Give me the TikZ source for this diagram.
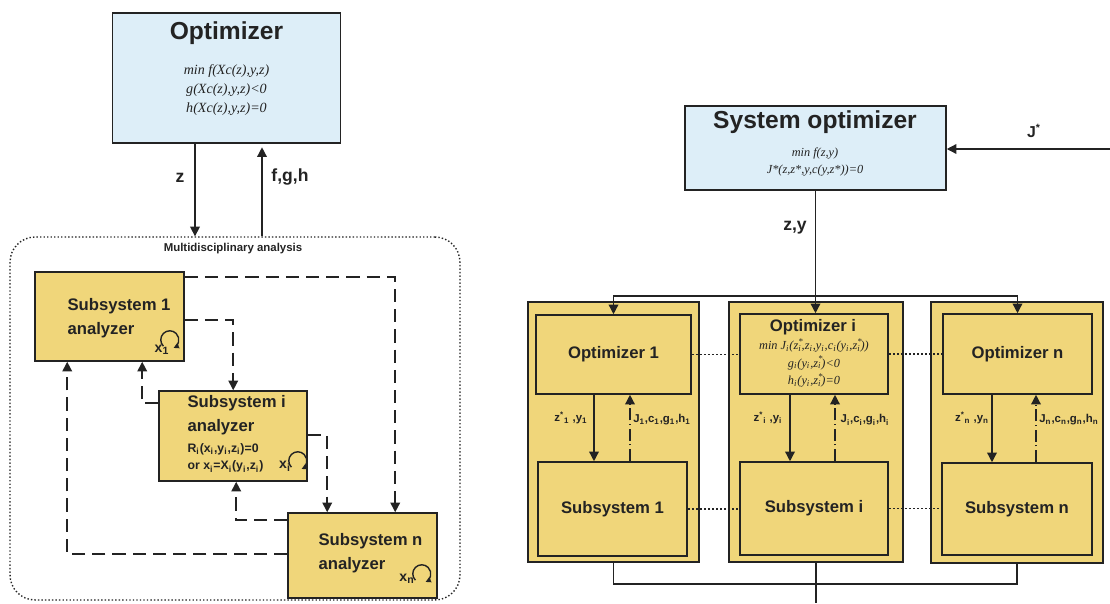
\documentclass[tikz,border=0pt]{standalone}
\usepackage{fontspec}
\setmainfont{Liberation Sans}
\newfontfamily\formfont{Liberation Serif}
\usetikzlibrary{arrows.meta,calc,positioning}
\definecolor{optblue}{RGB}{221,238,248}
\definecolor{subgold}{RGB}{240,214,122}
\definecolor{edge}{RGB}{35,35,35}
\newcommand{\sbs}[1]{\textsubscript{#1}}
\newcommand{\zst}[1]{z\rlap{\textsuperscript{*}}\textsubscript{#1}}

\begin{document}
\begin{tikzpicture}[x=0.02cm, y=-0.02cm, thick, draw=edge,
  >={Triangle[length=5.5pt,width=5.5pt]},
  optbox/.style={rectangle, draw=edge, fill=optblue, line width=0.9pt},
  anabox/.style={rectangle, draw=edge, fill=subgold, line width=0.9pt},
  title/.style={font=\fontsize{14}{16}\selectfont\bfseries, text=edge},
  formula/.style={font=\formfont\itshape\fontsize{8}{11}\selectfont, align=center, text=edge},
  formsmall/.style={font=\formfont\itshape\fontsize{7}{10}\selectfont, align=center, text=edge},
  boxtext/.style={font=\fontsize{9.5}{13.5}\selectfont\bfseries, text=edge},
  lbl/.style={font=\fontsize{10}{12}\selectfont\bfseries, text=edge},
  small/.style={font=\fontsize{6.5}{10}\selectfont\bfseries, text=edge},
  feed/.style={dash pattern=on 7.5pt off 4pt, line width=0.85pt},
  link/.style={dash pattern=on 1pt off 1.3pt, line width=0.8pt},
  back/.style={dash pattern=on 7pt off 2pt on 0.6pt off 2pt},
  loop/.style={->, line width=0.8pt, >={Triangle[length=3pt,width=3pt]}}]
  \useasboundingbox (0,0) rectangle (1110,603);

  % left: optimizer and the analysis loop
  \node[optbox, minimum width=4.56cm, minimum height=2.6cm] (opt) at (226.5,78) {};
  \node[title] (OptTitle) at (226.5,33) {Optimizer};
  \node[formula] (OptForm) at (226.5,90) {min f(Xc(z),y,z)\\g(Xc(z),y,z)<0\\h(Xc(z),y,z)=0};

  \node[draw=edge, dash pattern=on 0.8pt off 1.2pt, line width=0.8pt, rounded corners=0.5cm,
        minimum width=9cm, minimum height=7.26cm] (mda) at (235,418.5) {};
  \node[small] (MdaLabel) at (233,249) {Multidisciplinary analysis};

  \coordinate (zx) at (195,0);
  \coordinate (fx) at (262,0);
  \draw[->] (opt.south -| zx) -- (mda.north -| zx);
  \draw[->, shorten >=2pt] (mda.north -| fx) -- (opt.south -| fx);
  \node[lbl] (zL) at (180,178) {z};
  \node[lbl] (fghL) at (290,177) {f,g,h};

  \node[anabox, minimum width=2.98cm, minimum height=1.78cm] (s1) at (109.5,316.5) {};
  \node[boxtext, align=left, anchor=west] (s1T) at (61,318) {Subsystem 1\\analyzer};
  \node[anabox, minimum width=2.96cm, minimum height=1.8cm] (si) at (233,436) {};
  \node[boxtext, align=left, anchor=west] (siT) at (181,415) {Subsystem i\\analyzer};
  \node[small, font=\fontsize{7}{10}\selectfont\bfseries, align=left, anchor=west] (siR) at (181,458)
    {R\sbs{i}(x\sbs{i},y\sbs{i},z\sbs{i})=0\\or x\sbs{i}=X\sbs{i}(y\sbs{i},z\sbs{i})};
  \node[anabox, minimum width=2.98cm, minimum height=1.7cm] (sn) at (362.5,555.5) {};
  \node[boxtext, align=left, anchor=west] (snT) at (312,553) {Subsystem n\\analyzer};

  \draw[loop] ($(s1.south east)+(-15,-22)$) ++(225:0.18cm) arc (225:-65:0.18cm);
  \node[small, font=\fontsize{8}{10}\selectfont\bfseries] (x1) at (162,350) {x\sbs{1}};
  \draw[loop] ($(si.south east)+(-10,-21)$) ++(225:0.18cm) arc (225:-65:0.18cm);
  \node[small, font=\fontsize{8}{10}\selectfont\bfseries] (xi) at (285,466) {x\sbs{i}};
  \draw[loop] ($(sn.south east)+(-16,-25)$) ++(225:0.18cm) arc (225:-65:0.18cm);
  \node[small, font=\fontsize{8}{10}\selectfont\bfseries] (xn) at (407,579) {x\sbs{n}};

  \draw[feed, ->] ($(s1.north east)+(0,6)$) -| ($(sn.north west)+(108,0)$);
  \draw[feed, ->] ($(s1.north east)+(0,49)$) -| ($(si.north west)+(75,0)$);
  \draw[feed, ->] ($(si.north east)+(0,45)$) -| ($(sn.north west)+(40,0)$);
  \draw[feed, ->] ($(si.north west)+(0,13)$) -| ($(s1.south west)+(108,0)$);
  \draw[feed, ->] ($(sn.north west)+(0,8)$) -| ($(si.south west)+(78,0)$);
  \draw[feed, ->] ($(sn.north west)+(0,42)$) -| ($(s1.south west)+(33,0)$);

  % right: system optimizer and the subsystem columns
  \node[optbox, minimum width=5.22cm, minimum height=1.68cm] (sys) at (815.5,148) {};
  \node[title] (SysTitle) at (815,122) {System optimizer};
  \node[formsmall] (SysForm) at (815,162) {min f(z,y)\\J*(z,z*,y,c(y,z*))=0};
  \coordinate (jin) at (1110,149);
  \draw[->] (jin) -- (sys.east |- jin);
  \node[lbl, font=\fontsize{9}{11}\selectfont\bfseries] (JL) at (1034,131) {J\textsuperscript{*}};
  \node[lbl] (zyL) at (795,228) {z,y};

  \node[anabox, minimum width=3.42cm, minimum height=5.2cm] (col1) at (613.5,432) {};
  \node[anabox, minimum width=3.48cm, minimum height=5.2cm] (coli) at (816,432) {};
  \node[anabox, minimum width=3.44cm, minimum height=5.22cm] (coln) at (1017,432.5) {};

  \node[anabox, boxtext, minimum width=3.1cm, minimum height=1.58cm] (opt1) at (613.5,354.5) {Optimizer 1};
  \node[anabox, minimum width=2.96cm, minimum height=1.6cm] (opti) at (814,354) {};
  \node[boxtext] (OptiTitle) at (813,327) {Optimizer i};
  \node[formsmall] (OptiForm) at (814,363)
    {min J\sbs{i}(\zst{i},z\sbs{i},y\sbs{i},c\sbs{i}(y\sbs{i},\zst{i}))\\g\sbs{i}(y\sbs{i},\zst{i})<0\\h\sbs{i}(y\sbs{i},\zst{i})=0};
  \node[anabox, boxtext, minimum width=2.98cm, minimum height=1.6cm] (optn) at (1017.5,354) {Optimizer n};

  \node[anabox, boxtext, minimum width=2.98cm, minimum height=1.88cm] (sub1) at (612.5,509) {Subsystem 1};
  \node[anabox, boxtext, minimum width=2.96cm, minimum height=1.86cm] (subi) at (814,508.5) {Subsystem i};
  \node[anabox, boxtext, minimum width=3cm, minimum height=1.84cm] (subn) at (1017,509) {Subsystem n};

  \coordinate (bus) at (0,296);
  \draw[->] (sys.south) -- (sys.south |- opti.north);
  \draw[->] (sys.south |- bus) -| (opt1.north);
  \draw[->] (sys.south |- bus) -| (optn.north);

  \coordinate (d1) at (594,0);
  \coordinate (u1) at (630,0);
  \coordinate (di) at (790,0);
  \coordinate (ui) at (835,0);
  \coordinate (dn) at (992,0);
  \coordinate (un) at (1036,0);
  \draw[->] (opt1.south -| d1) -- (sub1.north -| d1);
  \draw[->, back] (sub1.north -| u1) -- (opt1.south -| u1);
  \draw[->] (opti.south -| di) -- (subi.north -| di);
  \draw[->, back] (subi.north -| ui) -- (opti.south -| ui);
  \draw[->] (optn.south -| dn) -- (subn.north -| dn);
  \draw[->, back] (subn.north -| un) -- (optn.south -| un);

  \node[small] (zy1) at (571,418) {z\textsuperscript{*}\sbs{1} ,y\sbs{1}};
  \node[small] (jc1) at (662,420) {J\sbs{1},c\sbs{1},g\sbs{1},h\sbs{1}};
  \node[small] (zyi) at (768,418) {z\textsuperscript{*}\sbs{i} ,y\sbs{i}};
  \node[small] (jci) at (865,420) {J\sbs{i},c\sbs{i},g\sbs{i},h\sbs{i}};
  \node[small] (zyn) at (972,418) {z\textsuperscript{*}\sbs{n} ,y\sbs{n}};
  \node[small] (jcn) at (1069,420) {J\sbs{n},c\sbs{n},g\sbs{n},h\sbs{n}};

  \draw[link] (opt1.east) -- (opt1.east -| opti.west);
  \draw[link] (opti.east) -- (opti.east -| optn.west);
  \draw[link] (sub1.east) -- (sub1.east -| subi.west);
  \draw[link] (subi.east) -- (subi.east -| subn.west);

  \coordinate (bot) at (0,584);
  \coordinate (out) at (0,603);
  \draw (col1.south) -- (col1.south |- bot) -- (coln.south |- bot) -- (coln.south);
  \draw (coli.south) -- (coli.south |- out);
\end{tikzpicture}
\end{document}
